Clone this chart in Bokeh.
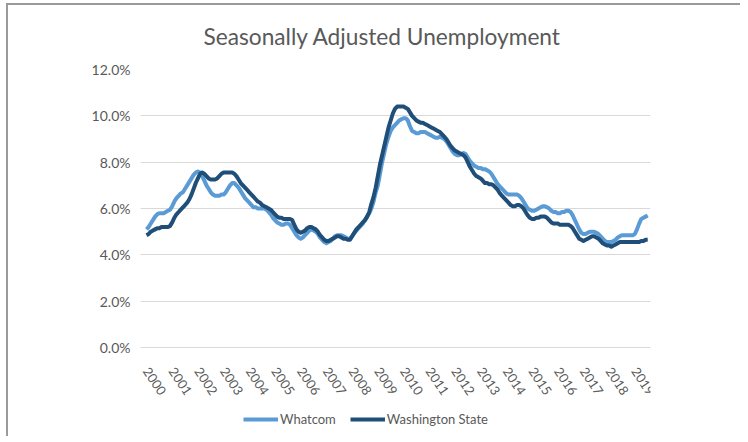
import pandas as pd
from bokeh.plotting import figure
from bokeh.models import (FixedTicker, PrintfTickFormatter, Range1d, Legend, LegendItem, LinearAxis)
from bokeh.embed import file_html
from bokeh.resources import INLINE

# ---- data (monthly, Jan 2000 .. Jul 2019), percent ----
years = [str(y) for y in range(2000, 2020)]

whatcom = [
    5.1, 5.2, 5.35, 5.5, 5.65, 5.75, 5.8, 5.8, 5.8, 5.85, 5.9, 5.95,        # 2000
    6.1, 6.3, 6.45, 6.55, 6.65, 6.7, 6.85, 7.0, 7.15, 7.3, 7.45, 7.55,      # 2001
    7.6, 7.55, 7.4, 7.2, 7.0, 6.85, 6.7, 6.6, 6.55, 6.55, 6.55, 6.6,        # 2002
    6.6, 6.7, 6.85, 7.0, 7.1, 7.1, 7.0, 6.9, 6.75, 6.6, 6.45, 6.35,         # 2003
    6.25, 6.15, 6.05, 6.05, 6.0, 6.0, 6.0, 6.0, 5.95, 5.85, 5.75, 5.6,      # 2004
    5.5, 5.4, 5.35, 5.3, 5.3, 5.35, 5.35, 5.3, 5.15, 5.0, 4.85, 4.75,       # 2005
    4.7, 4.75, 4.85, 4.95, 5.05, 5.1, 5.05, 5.0, 4.9, 4.75, 4.65, 4.55,     # 2006
    4.5, 4.55, 4.6, 4.7, 4.8, 4.85, 4.85, 4.85, 4.8, 4.75, 4.7, 4.7,        # 2007
    4.8, 4.95, 5.05, 5.15, 5.25, 5.35, 5.5, 5.65, 5.8, 6.0, 6.3, 6.7,       # 2008
    7.0, 7.5, 8.0, 8.4, 8.8, 9.1, 9.35, 9.5, 9.6, 9.7, 9.8, 9.85,           # 2009
    9.9, 9.9, 9.8, 9.55, 9.35, 9.3, 9.25, 9.25, 9.3, 9.3, 9.3, 9.25,        # 2010
    9.2, 9.15, 9.1, 9.05, 9.05, 9.1, 9.05, 9.0, 8.9, 8.75, 8.6, 8.45,       # 2011
    8.35, 8.3, 8.3, 8.35, 8.4, 8.35, 8.2, 8.05, 7.95, 7.85, 7.8, 7.75,      # 2012
    7.75, 7.7, 7.7, 7.65, 7.6, 7.5, 7.35, 7.2, 7.05, 6.95, 6.85, 6.75,      # 2013
    6.65, 6.6, 6.6, 6.6, 6.6, 6.6, 6.55, 6.45, 6.3, 6.15, 6.0, 5.95,        # 2014
    5.9, 5.9, 5.95, 6.0, 6.05, 6.1, 6.1, 6.05, 6.0, 5.9, 5.85, 5.85,        # 2015
    5.8, 5.8, 5.85, 5.85, 5.9, 5.9, 5.85, 5.7, 5.5, 5.3, 5.1, 4.95,         # 2016
    4.9, 4.9, 4.95, 5.0, 5.0, 5.0, 4.95, 4.9, 4.8, 4.7, 4.6, 4.55,          # 2017
    4.55, 4.55, 4.6, 4.65, 4.75, 4.8, 4.85, 4.85, 4.85, 4.85, 4.85, 4.85,   # 2018
    4.9, 5.1, 5.35, 5.55, 5.6, 5.65, 5.7,                                   # 2019
]

washington = [
    4.85, 4.9, 5.0, 5.05, 5.1, 5.15, 5.15, 5.2, 5.2, 5.2, 5.2, 5.25,        # 2000
    5.4, 5.6, 5.75, 5.85, 5.95, 6.05, 6.15, 6.25, 6.4, 6.6, 6.85, 7.1,      # 2001
    7.3, 7.5, 7.55, 7.5, 7.4, 7.3, 7.25, 7.25, 7.25, 7.3, 7.4, 7.5,         # 2002
    7.55, 7.55, 7.55, 7.55, 7.55, 7.5, 7.4, 7.25, 7.1, 7.0, 6.9, 6.8,       # 2003
    6.7, 6.6, 6.5, 6.4, 6.3, 6.25, 6.15, 6.1, 6.05, 6.0, 5.95, 5.85,        # 2004
    5.75, 5.65, 5.6, 5.6, 5.55, 5.55, 5.55, 5.55, 5.5, 5.3, 5.1, 5.0,       # 2005
    4.95, 5.0, 5.05, 5.15, 5.2, 5.2, 5.15, 5.1, 5.0, 4.85, 4.75, 4.65,      # 2006
    4.6, 4.6, 4.65, 4.7, 4.75, 4.8, 4.8, 4.75, 4.7, 4.7, 4.65, 4.65,        # 2007
    4.8, 4.95, 5.1, 5.2, 5.3, 5.4, 5.5, 5.65, 5.85, 6.2, 6.5, 6.9,          # 2008
    7.4, 7.9, 8.3, 8.7, 9.1, 9.5, 9.8, 10.1, 10.3, 10.4, 10.4, 10.4,        # 2009
    10.4, 10.35, 10.3, 10.15, 10.0, 9.9, 9.8, 9.75, 9.7, 9.7, 9.65, 9.6,    # 2010
    9.55, 9.5, 9.45, 9.4, 9.35, 9.3, 9.2, 9.1, 9.0, 8.85, 8.7, 8.6,         # 2011
    8.5, 8.45, 8.4, 8.35, 8.3, 8.2, 8.0, 7.8, 7.65, 7.5, 7.4, 7.35,         # 2012
    7.3, 7.2, 7.1, 7.1, 7.05, 7.05, 7.0, 6.9, 6.8, 6.65, 6.55, 6.45,        # 2013
    6.35, 6.25, 6.15, 6.1, 6.1, 6.15, 6.15, 6.1, 6.0, 5.85, 5.7, 5.6,       # 2014
    5.55, 5.55, 5.6, 5.6, 5.65, 5.65, 5.65, 5.6, 5.5, 5.4, 5.35, 5.35,      # 2015
    5.35, 5.3, 5.3, 5.3, 5.3, 5.3, 5.25, 5.15, 5.0, 4.85, 4.7, 4.65,        # 2016
    4.6, 4.65, 4.7, 4.75, 4.8, 4.8, 4.75, 4.7, 4.6, 4.5, 4.45, 4.4,         # 2017
    4.4, 4.35, 4.4, 4.45, 4.5, 4.55, 4.55, 4.55, 4.55, 4.55, 4.55, 4.55,    # 2018
    4.55, 4.55, 4.55, 4.6, 4.6, 4.65, 4.65,                                 # 2019
]

y_ticks = [0, 2, 4, 6, 8, 10, 12]

months = pd.date_range("2000-01-01", periods=len(whatcom), freq="MS")
x = [d.year + (d.month - 1) / 12 for d in months]

FONT = "Lato"
GRAY = "#595959"

# frame runs to the bottom of the canvas; the 0..12 band sits in its upper part,
# the year labels and the legend live in the space below zero
p = figure(width=740, height=436, output_backend="svg", toolbar_location=None,
           x_axis_location=None,
           x_range=Range1d(2000 - 2.8 / 12, 2000 + 235.3 / 12), y_range=Range1d(-3.84, 12),
           min_border_left=140, min_border_right=90, min_border_top=69, min_border_bottom=0)

p.title.text = "Seasonally Adjusted Unemployment"
p.title.align = "left"
p.title.offset = 63
p.title.text_font = FONT
p.title.text_font_size = "22.7px"
p.title.text_font_style = "normal"
p.title.text_color = GRAY
p.title.standoff = 39

# thin top/left chart border (inset shadows under a transparent canvas border)
p.styles = {"box-shadow": "inset 6px 3px 0px 0px #ffffff, inset 8px 5px 0px 0px #9a9a9a"}

p.outline_line_color = None
p.background_fill_color = "white"
p.border_fill_alpha = 0

r1 = p.line(x, whatcom, line_color="#5B9BD5", line_width=4, line_join="round")
r2 = p.line(x, washington, line_color="#1F4E79", line_width=4, line_join="round")

# y axis
p.yaxis.ticker = FixedTicker(ticks=y_ticks)
p.yaxis.formatter = PrintfTickFormatter(format="%.1f%%")
p.yaxis.axis_line_color = None
p.yaxis.major_tick_line_color = None
p.yaxis.minor_tick_line_color = None
p.yaxis.major_tick_out = 0
p.yaxis.major_tick_in = 0
p.yaxis.major_label_text_font = FONT
p.yaxis.major_label_text_font_size = "14px"
p.yaxis.major_label_text_color = GRAY
p.yaxis.major_label_standoff = 10

# x axis pinned at y = 0
xaxis = LinearAxis(fixed_location=0,
                   ticker=FixedTicker(ticks=[int(y) for y in years]),
                   major_label_overrides={int(y): y for y in years},
                   axis_line_color="#d9d9d9",
                   major_tick_line_color=None, minor_tick_line_color=None,
                   major_tick_out=0, major_tick_in=0,
                   major_label_orientation=-0.98,
                   major_label_text_font=FONT, major_label_text_font_size="13px",
                   major_label_text_color=GRAY, major_label_standoff=21)
p.add_layout(xaxis, "below")

p.xgrid.grid_line_color = None
p.ygrid.grid_line_color = "#d9d9d9"
p.ygrid.grid_line_width = 1

legend = Legend(items=[LegendItem(label="Whatcom", renderers=[r1]),
                       LegendItem(label="Washington State", renderers=[r2])],
                orientation="horizontal", location=(103, 9),
                label_text_font=FONT, label_text_font_size="13px", label_text_color=GRAY,
                glyph_width=35, glyph_height=14, label_height=14,
                label_standoff=2, spacing=14, padding=2, margin=0,
                border_line_color=None, background_fill_alpha=0)
p.add_layout(legend, "center")

open("out.html", "w").write(file_html(p, INLINE))
